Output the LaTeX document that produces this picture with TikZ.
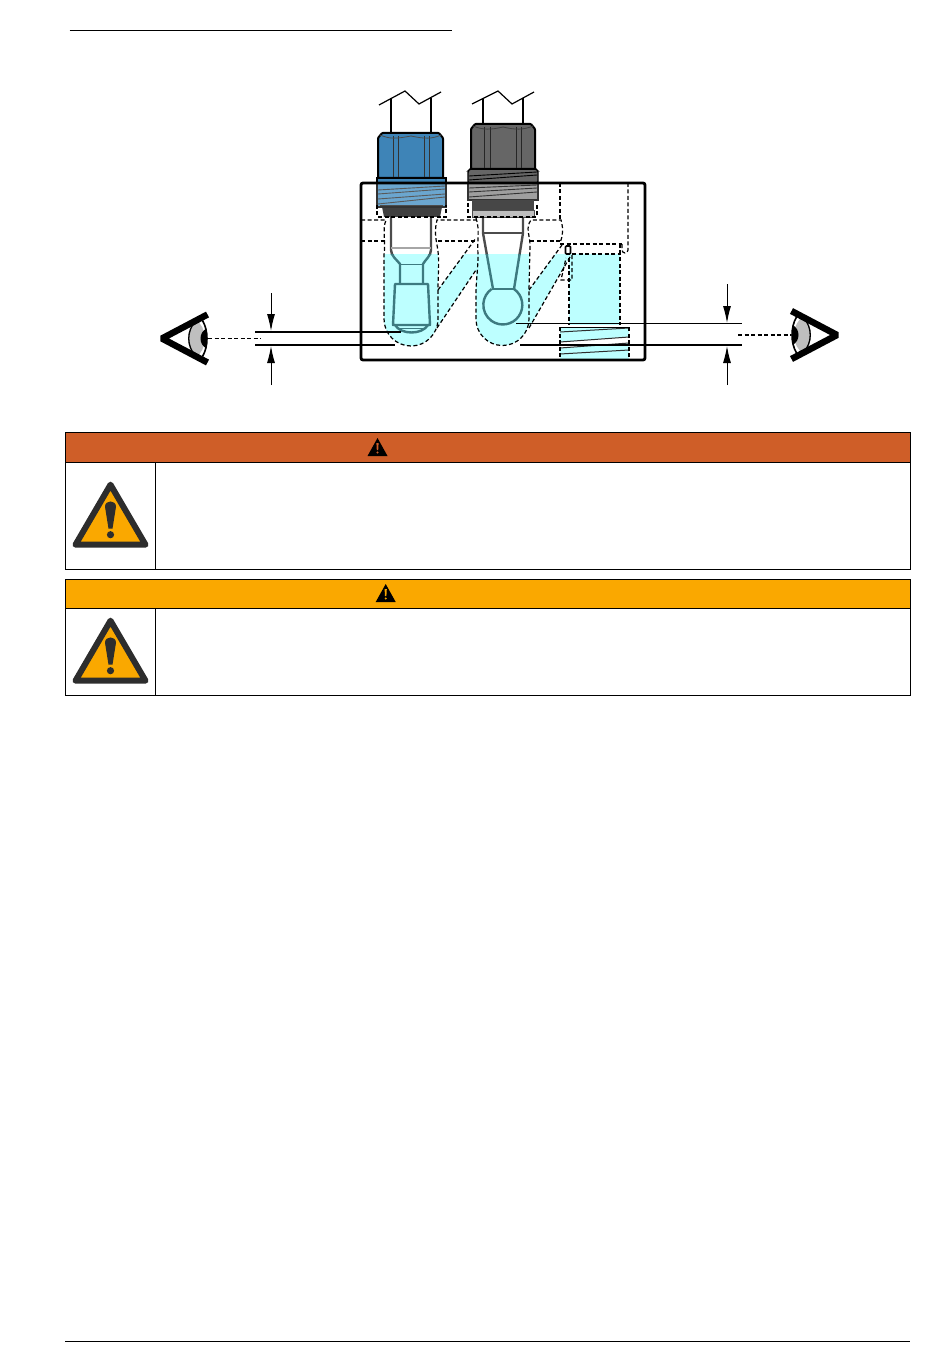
\documentclass[tikz,border=0pt]{standalone}
\usepackage{tikz}
\usetikzlibrary{arrows.meta}
\definecolor{water}{HTML}{BDFFFF}
\definecolor{nutblue}{HTML}{3E84B7}
\definecolor{threadblue}{HTML}{6BA6CF}
\definecolor{probeteal}{HTML}{3D7A80}
\definecolor{danger}{HTML}{CF5E28}
\definecolor{warning}{HTML}{FAA800}
\definecolor{signdark}{HTML}{2D2D2D}
\tikzset{
  hidden/.style={draw=black, line width=1.2pt, dash pattern=on 4pt off 2.5pt},
  dimline/.style={draw=black, line width=1.2pt},
  dimarrow/.style={draw=black, line width=1pt, -{Latex[length=17pt,width=8pt]}},
  probe/.style={line width=2.4pt, line join=round},
  nut/.style={draw=black, line width=2pt, rounded corners=0.8pt},
  threadline/.style={line width=0.9pt},
  warnbar/.style={draw=black, line width=1pt, anchor=north west, inner sep=0pt, outer sep=0pt, minimum width=845.5pt, minimum height=29.5pt},
  warnbody/.style={draw=black, line width=1pt, anchor=north west, inner sep=0pt, outer sep=0pt},
  largewarn/.pic={
    \draw[signdark, fill=warning, line width=6pt, line join=round] (0,-63) -- (-35,-3) -- (35,-3) -- cycle;
    \fill[signdark] (-5.5,-41) .. controls (-5.5,-48) and (5.5,-48) .. (5.5,-41) -- (2,-19) -- (-2,-19) -- cycle;
    \fill[signdark] (0,-13) circle (3.6);
  },
  smallwarn/.pic={
    \fill[black] (0,-18) -- (-10,0) -- (10,0) -- cycle;
    \fill[#1] (-1.1,-13) -- (1.1,-13) -- (0.7,-6) -- (-0.7,-6) -- cycle;
    \fill[#1] (0,-3.5) circle (1.1);
  },
  eyeball/.pic={
    \fill[gray!50] (35,-18) .. controls (25,-8) and (25,8) .. (35,18) .. controls (47,14) and (47,-14) .. (35,-18) -- cycle;
    \draw[line width=1.6pt] (42,-18) .. controls (48,-8) and (48,8) .. (42,18);
    \fill[black] (46,-10) .. controls (38,-6) and (38,6) .. (46,10) -- cycle;
    \draw[line width=1.3pt] (35,-17) .. controls (26,-8) and (26,8) .. (35,17);
    \draw[line width=6.5pt, line join=bevel] (47,-24) -- (1.5,0) -- (47,24);
  },
}
\begin{document}
\begin{tikzpicture}[x=1pt,y=-1pt]
\useasboundingbox (0,0) rectangle (950,1364);
\draw[line width=1pt] (69.5,30.5) -- (452,30.5);
\draw[line width=1pt] (65,1341.5) -- (910,1341.5);
% water
\begin{scope}
\clip (361,254) rectangle (645,360);
\fill[water] (384,240) -- (384,319) arc (180:0:27) -- (438,240) -- cycle;
\fill[water] (438,290) -- (476,238) -- (476,270) -- (437,328) -- cycle;
\fill[water] (476,240) -- (476,319) arc (180:0:26.5) -- (529,240) -- cycle;
\fill[water] (529,290) -- (562,245) -- (571,254) -- (529,328) -- cycle;
\end{scope}
\fill[water] (569,254) rectangle (620,325);
\fill[water] (560,327) rectangle (629,359);
\fill[white] (560,342) -- (629,337) -- (629,343) -- (560,348) -- cycle;
\foreach \ya/\yb in {332/328,342/337,348/343,354/350}
  \draw[signdark, line width=1pt] (560,\ya) -- (629,\yb);
\draw[line width=1pt] (560,327) -- (629,327);
% probes
\begin{scope}
\clip (370,215) rectangle (540,254);
\draw[probe, gray!60!black] (391,217) -- (391,250) .. controls (391,256) and (397,260) .. (400,264);
\draw[probe, gray!60!black] (431,217) -- (431,250) .. controls (431,256) and (425,260) .. (423,264);
\draw[line width=1.2pt, gray!70] (391,248) -- (431,248);
\draw[probe, gray!60!black] (483,217) -- (483,233) -- (493,289);
\draw[probe, gray!60!black] (523,217) -- (523,233) -- (514,289);
\draw[line width=1.3pt, gray!60!black] (483,233) -- (523,233);
\end{scope}
\begin{scope}[probeteal]
\clip (370,254) rectangle (540,345);
\draw[probe] (391,250) .. controls (391,256) and (397,260) .. (400,264) -- (400,284);
\draw[probe] (431,250) .. controls (431,256) and (425,260) .. (423,264) -- (423,284);
\draw[line width=1pt] (400,264) -- (423,264);
\draw[probe] (395,284) -- (428,284) -- (430,325) -- (393,325) -- cycle;
\draw[probe] (395,325) .. controls (401,335) and (422,335) .. (428,325);
\draw[line width=0.9pt] (400,328) -- (423,328);
\draw[probe] (483,233) -- (493,289);
\draw[probe] (523,233) -- (514,289);
\draw[probe] (492,289) -- (514,289);
\draw[probe] (514,289) arc (-55:235:19.5);
\end{scope}
% blue sensor
\draw[line width=1.5pt] (391,98) -- (391,133) (431,98) -- (431,133);
\draw[line width=1.2pt] (379,105) -- (405,91) -- (419,104) -- (441,92);
\fill[black!75] (382,207) -- (442,207) -- (440,217) -- (384,217) -- cycle;
\fill[threadblue, draw=black!80, line width=1.4pt] (377,183) rectangle (446,207);
\foreach \ya/\yb in {190/186,194/189,199/194,204/197}
  \draw[threadline, gray!70!black] (378,\ya) -- (445,\yb);
\draw[threadline, black!70] (380,205) -- (443,205);
\fill[nutblue, draw=black, line width=1.2pt] (377,178) rectangle (446,183);
\draw[nut, fill=nutblue] (378,178) -- (378,138) -- (382,133) -- (439,133) -- (443,138) -- (443,178) -- cycle;
\draw[line width=1pt, black!80] (393,136) -- (393,177) (398,136) -- (398,177) (424,136) -- (424,177) (429,136) -- (429,177);
\draw[line width=0.8pt, black!70] (380,135) .. controls (390,139) and (395,139) .. (411,136) .. controls (425,139) and (432,139) .. (441,135);
% grey sensor
\draw[line width=1.5pt] (483,98) -- (483,124) (523,98) -- (523,124);
\draw[line width=1.2pt] (472,104) -- (498,91) -- (512,104) -- (534,92);
\fill[gray!50!black, draw=black!80, line width=1.4pt] (468,183) rectangle (538,200);
\fill[gray!75] (469,183) rectangle (537,199);
\foreach \ya/\yb in {188/185,192/188,197/192}
  \draw[threadline, gray!40!black] (469,\ya) -- (537,\yb);
\fill[black!72] (472,200) rectangle (534,210);
\fill[gray!50, draw=black!70, line width=0.8pt] (472,210) rectangle (534,217);
\fill[black!60, draw=black, line width=1.2pt, rounded corners=1.5pt] (468,183) -- (468,171) -- (470,169) -- (536,169) -- (538,171) -- (538,183) -- cycle;
\foreach \ya/\yb in {176/172,180/175}
  \draw[threadline, black] (469,\ya) -- (537,\yb);
\draw[nut, fill=black!60] (471,169) -- (471,129) -- (475,124) -- (531,124) -- (535,129) -- (535,169) -- cycle;
\draw[line width=1pt, black!85] (484,127) -- (484,168) (490,127) -- (490,168) (516,127) -- (516,168) (521,127) -- (521,168);
\draw[line width=0.8pt, black!75] (473,126) .. controls (483,130) and (490,130) .. (503,127) .. controls (516,130) and (523,130) .. (533,126);
% hidden edges
\draw[hidden] (361,220) -- (386,220) .. controls (382,230) and (386,240) .. (384,255) -- (384,319) arc (180:0:27) -- (438,290) .. controls (438,270) and (440,260) .. (437,245) .. controls (435,235) and (435,228) .. (437,220) -- (476,220);
\draw[hidden] (361,241) -- (385,241);
\draw[hidden] (438,241) -- (476,241);
\draw[hidden] (476,218) .. controls (480,230) and (477,240) .. (478,255) .. controls (478,270) and (476,280) .. (476,295) -- (476,319) arc (180:0:26.5) -- (529,290) -- (530,245) .. controls (530,235) and (525,228) .. (531,220) -- (561,220) .. controls (564,230) and (562,238) .. (560,243);
\draw[hidden] (530,241) -- (561,241);
\draw[hidden] (438,290) -- (476,238);
\draw[hidden] (437,328) -- (476,270);
\draw[hidden] (529,290) -- (562,245);
\draw[hidden] (529,328) -- (570,257);
\draw[hidden] (377,205) -- (377,217) -- (446,217) -- (446,205);
\draw[hidden] (468,203) -- (468,217) -- (537,217) -- (537,203);
\draw[hidden] (560,183) -- (560,220);
\draw[hidden] (628,183) -- (628,250) arc (0:180:3) -- (622,244);
\draw[hidden] (560,244) -- (622,244);
\draw[hidden] (572,254) -- (620,254);
\draw[hidden] (620,244) -- (620,325);
\draw[hidden] (569,258) -- (569,325);
\draw[hidden] (572,255) -- (572,280) -- (561,280) -- (566,258);
\draw[line width=1.6pt, rounded corners=1pt] (565.5,246) rectangle (570.5,254);
\draw[hidden, line width=1.5pt] (560,327) -- (560,359);
\draw[hidden, line width=1.5pt] (629,327) -- (629,359);
% block
\draw[line width=2.8pt, rounded corners=2pt] (361,183) rectangle (645,360);
% dimensions
\coordinate (dimLtop) at (255,332);
\coordinate (dimLtopend) at (401,332);
\coordinate (dimLbot) at (255,345);
\coordinate (dimLbotend) at (395,345);
\coordinate (dimRtop) at (516,323.5);
\coordinate (dimRtopend) at (742,323.5);
\coordinate (dimRbot) at (520,345);
\coordinate (dimRbotend) at (742,345);
\draw[dimline] (dimLtop) -- (dimLtopend);
\draw[dimline] (dimLbot) -- (dimLbotend);
\draw[dimline] (dimRtop) -- (dimRtopend);
\draw[dimline] (dimRbot) -- (dimRbotend);
\coordinate (arrLa) at (271,293);
\coordinate (arrLb) at (271,331);
\coordinate (arrLc) at (271,385);
\coordinate (arrLd) at (271,346);
\coordinate (arrRa) at (727,284);
\coordinate (arrRb) at (727,323);
\coordinate (arrRc) at (727,385);
\coordinate (arrRd) at (727,346);
\draw[dimarrow] (arrLa) -- (arrLb);
\draw[dimarrow] (arrLc) -- (arrLd);
\draw[dimarrow] (arrRa) -- (arrRb);
\draw[dimarrow] (arrRc) -- (arrRd);
% eyes
\pic at (160.5,338.5) {eyeball};
\pic[xscale=-1] at (838.5,335) {eyeball};
\coordinate (sightLa) at (208,338.5);
\coordinate (sightLb) at (261,338.5);
\coordinate (sightRa) at (738,335);
\coordinate (sightRb) at (791,335);
\draw[hidden] (sightLa) -- (sightLb);
\draw[hidden] (sightRa) -- (sightRb);
% warning tables
\node[warnbar, fill=danger] (dangerbar) at (65,432.5) {};
\node[warnbody, minimum width=90.5pt, minimum height=107.5pt] (dangericon) at (65,462) {};
\node[warnbody, minimum width=755pt, minimum height=107.5pt] (dangertext) at (155.5,462) {};
\node[warnbar, fill=warning] (cautionbar) at (65,579) {};
\node[warnbody, minimum width=90.5pt, minimum height=87.5pt] (cautionicon) at (65,608) {};
\node[warnbody, minimum width=755pt, minimum height=87.5pt] (cautiontext) at (155.5,608) {};
\pic at (377.5,456) {smallwarn=danger};
\pic at (385.7,602) {smallwarn=warning};
\pic at (110.5,547.7) {largewarn};
\pic at (110.5,683.7) {largewarn};
\end{tikzpicture}
\end{document}
